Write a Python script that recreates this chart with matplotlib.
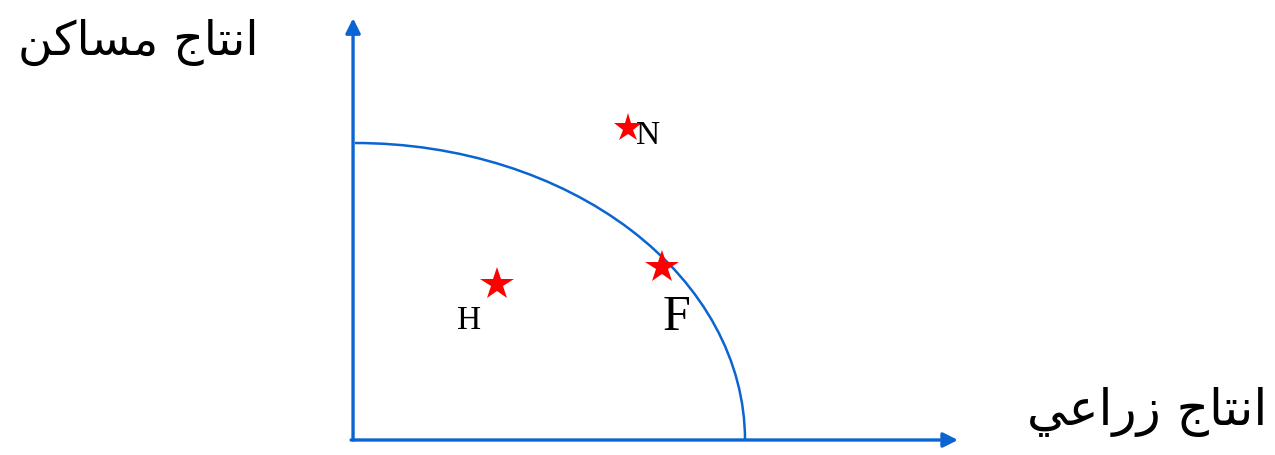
import matplotlib
matplotlib.use("Agg")
import matplotlib.pyplot as plt
from matplotlib.patches import Arc

# frontier intercepts (agriculture, housing)
frontier_x = 10.0
frontier_y = 10.0

# points
labels = ["N", "F", "H"]
px = [7.0, 7.87, 3.64]
py = [10.5, 5.82, 5.25]
star_sizes = [21, 25, 25]

# label text positions
lab_x = [7.2, 8.23, 2.92]
lab_y = [10.25, 4.1, 4.0]
lab_size = [24, 36, 24]
lab_ha = ["left", "center", "center"]

y_title = "ﻦﻛﺎﺴﻣ ﺝﺎﺘﻧﺍ"   # انتاج مساكن
x_title = "ﻲﻋﺍﺭﺯ ﺝﺎﺘﻧﺍ"   # انتاج زراعي

blue = "#0a64d2"

fig = plt.figure(figsize=(12.75, 4.55), dpi=100)
ax = fig.add_axes([0, 0, 1, 1])
ax.set_xlim(-355 / 39, 920 / 39)
ax.set_ylim(-15 / 29.7, 440 / 29.7)
ax.set_axis_off()

# axes with arrows
ax.annotate("", xy=(-0.05, 14.2), xytext=(-0.05, 0),
            arrowprops=dict(arrowstyle="-|>", color=blue, lw=2.4,
                            mutation_scale=22, shrinkA=0, shrinkB=0))
ax.annotate("", xy=(15.46, 0), xytext=(-0.1, 0),
            arrowprops=dict(arrowstyle="-|>", color=blue, lw=2.4,
                            mutation_scale=22, shrinkA=0, shrinkB=0))

# production possibility frontier
ax.add_patch(Arc((0, 0), 2 * frontier_x, 2 * frontier_y, theta1=0, theta2=90,
                 color=blue, lw=1.8))

for x, y, s in zip(px, py, star_sizes):
    ax.plot(x, y, marker="*", color="red", markersize=s, markeredgewidth=0,
            linestyle="none")

for t, x, y, s, ha in zip(labels, lab_x, lab_y, lab_size, lab_ha):
    ax.text(x, y, t, fontsize=s, ha=ha, va="center",
            family=["Liberation Serif"])

ax.text(-5.56, 13.4, y_title, fontsize=34, ha="center", va="center",
        family=["DejaVu Sans"])
ax.text(20.3, 0.94, x_title, fontsize=36, ha="center", va="center",
        family=["DejaVu Sans"])

fig.savefig("out.png", dpi=100)
